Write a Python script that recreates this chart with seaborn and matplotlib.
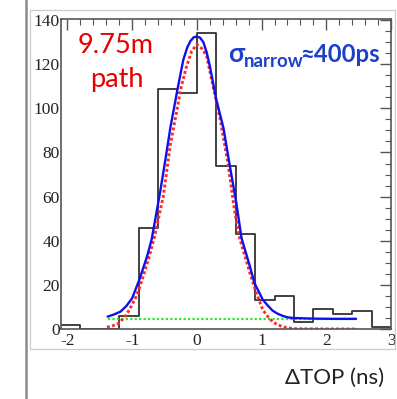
import numpy as np
import pandas as pd
import seaborn as sns
import matplotlib.pyplot as plt
from matplotlib.patches import Rectangle
from matplotlib.lines import Line2D
from matplotlib.ticker import MultipleLocator

W, H = 397, 399

# histogram: bin edges (ns) and counts per bin
bin_edges = [-2.1, -1.8, -1.5, -1.2, -0.9, -0.6, -0.3, 0.0, 0.3, 0.6, 0.9,
             1.2, 1.5, 1.8, 2.1, 2.4, 2.7, 3.0]
counts = [2, 0, 0, 6, 46, 109, 107, 134, 74, 43, 13, 15, 3, 9, 7, 8, 1]

# full fit (blue)
blue_x = [-1.38, -1.28, -1.18, -1.09, -1.0, -0.89, -0.77, -0.70, -0.57, -0.48,
          -0.41, -0.30, -0.21, -0.15, -0.10, -0.05, 0.0, 0.05, 0.10, 0.15,
          0.20, 0.30, 0.41, 0.51, 0.61, 0.69, 0.82, 0.89, 1.02, 1.10, 1.17,
          1.25, 1.33, 1.40, 1.48, 1.8, 2.1, 2.46]
blue_y = [5.6, 6.6, 7.9, 10.4, 14.0, 22.3, 32.9, 40.5, 61.7, 78.0,
          91.2, 108.6, 122.0, 127.5, 130.5, 132.2, 132.6, 132.0, 130.0, 125.5,
          119.2, 104.0, 91.2, 73.8, 57.1, 41.2, 28.3, 20.8, 13.2, 10.5, 8.3,
          6.9, 5.9, 5.3, 5.0, 4.7, 4.6, 4.6]

# narrow gaussian (red dotted)
red_x = [-1.39, -1.30, -1.21, -1.12, -1.03, -0.95, -0.88, -0.75, -0.66, -0.52,
         -0.41, -0.36, -0.24, -0.16, -0.08, 0.0, 0.08, 0.15, 0.25, 0.36, 0.48,
         0.58, 0.66, 0.82, 0.92, 1.02, 1.10, 1.17, 1.25, 1.33, 1.43, 1.53,
         2.0, 2.48]
red_y = [0.8, 1.5, 2.6, 5.2, 9.4, 14.0, 19.2, 31.4, 41.2, 60.0,
         83.6, 91.2, 110.0, 119.0, 126.0, 129.0, 127.0, 123.8, 110.0, 95.0, 75.3,
         54.0, 41.2, 25.3, 16.2, 8.6, 5.5, 3.3, 1.9, 1.0, 0.4, 0.1,
         0.0, 0.0]

# flat background (green dotted)
bkg_x = [-1.38, 2.48]
bkg_y = [4.6, 4.6]

xticks = [-2, -1, 0, 1, 2, 3]
yticks = [0, 20, 40, 60, 80, 100, 120, 140]


def px(x, y):
    return x / W, 1 - y / H


sns.set_style('white')
plt.rcParams['font.family'] = ['Liberation Serif', 'DejaVu Serif']
plt.rcParams['axes.unicode_minus'] = False
sans = ['Lato', 'DejaVu Sans']

fig = plt.figure(figsize=(W / 100, H / 100), dpi=100)
fig.patch.set_facecolor('white')

# slide decorations: thick left bar and light canvas frame
fig.add_artist(Line2D([25.5 / W, 25.5 / W], [0, 1], color='#8a8a8a', lw=1.8))
fig.add_artist(Rectangle(px(30, 349), 365 / W, 339 / H, fill=False,
                         ec='#cccccc', lw=0.9))

ax = fig.add_axes([61 / W, 1 - 329 / H, 330 / W, 310 / H])

hist = pd.DataFrame({'dt': [(a + b) / 2 for a, b in zip(bin_edges[:-1], bin_edges[1:])],
                     'n': counts})
sns.histplot(data=hist, x='dt', weights='n', bins=bin_edges, element='step',
             fill=False, color='#333333', lw=1.3, ax=ax)

sns.lineplot(x=bkg_x, y=bkg_y, color='#2ee62e', lw=1.6, ls=(0, (1, 1)), ax=ax)
sns.lineplot(x=red_x, y=red_y, color='#ff2a2a', lw=2.1, ls=(0, (1, 0.8)), ax=ax)
sns.lineplot(x=blue_x, y=blue_y, color='#1010ee', lw=1.7, ax=ax)

ax.set_xlim(-2.1, 3.0)
ax.set_ylim(0, 140.5)
ax.set_xticks(xticks)
ax.set_yticks(yticks)
ax.xaxis.set_minor_locator(MultipleLocator(0.2))
ax.yaxis.set_minor_locator(MultipleLocator(5))
ax.tick_params(which='both', direction='in', top=True, right=True,
               colors='#555555', labelcolor='#222222', labelsize=12.5)
ax.tick_params(which='major', length=8, width=1)
ax.tick_params(which='minor', length=4, width=0.8)
ax.tick_params(axis='x', pad=3)
ax.tick_params(axis='y', pad=1)
ax.set_xlabel('')
ax.set_ylabel('')
for s in ax.spines.values():
    s.set_color('#555555')
    s.set_linewidth(1.2)

red = '#e60000'
fig.text(*px(116, 53), '9.75m', color=red, fontsize=19.5, family=sans,
         ha='center', va='baseline')
fig.text(*px(117, 87), 'path', color=red, fontsize=19.5, family=sans,
         ha='center', va='baseline')

blue = '#1a40cc'
fig.text(*px(228, 62), 'σ', color=blue, fontsize=19, family=sans,
         weight='bold', va='baseline')
fig.text(*px(244, 67), 'narrow', color=blue, fontsize=13.5, family=sans,
         weight='bold', va='baseline')
fig.text(*px(300, 62), '≈400ps', color=blue, fontsize=17.2, family=sans,
         weight='bold', va='baseline')

fig.text(*px(335, 384), 'ΔTOP (ns)', color='#222222', fontsize=16,
         family=sans, ha='center', va='baseline')

fig.savefig('out.png', dpi=100)
